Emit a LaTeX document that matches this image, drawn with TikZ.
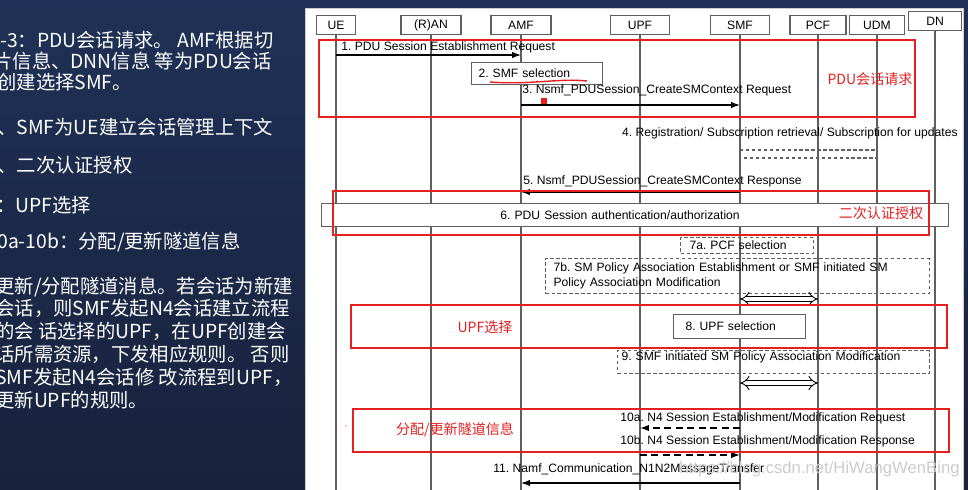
\documentclass[tikz,border=0pt]{standalone}
\usepackage{fontspec}
\setmainfont{Liberation Sans}
\newfontfamily\cjk{Noto Sans CJK SC}
\usepackage{xcolor}
\usetikzlibrary{arrows.meta,positioning,calc}
\frenchspacing

\definecolor{slidetop}{RGB}{31,49,86}
\definecolor{slidebot}{RGB}{24,34,60}
\definecolor{markred}{RGB}{228,32,32}
\definecolor{lifegray}{RGB}{95,95,95}

\begin{document}
\begin{tikzpicture}[
    x=0.02cm, y=-0.02cm,
    >={Latex[length=5pt,width=3.6pt]},
    font=\fontsize{6.9}{8.5}\selectfont,
    entity/.style={rectangle,draw=lifegray,fill=white,line width=0.6pt,minimum height=0.38cm,inner sep=0pt},
    life/.style={draw=lifegray,line width=0.6pt},
    procbox/.style={rectangle,draw=lifegray,fill=white,line width=0.6pt,inner ysep=0pt,align=left},
    optbox/.style={rectangle,draw=lifegray,line width=0.6pt,dash pattern=on 2pt off 1.4pt,inner ysep=0pt,align=left},
    msgtext/.style={inner sep=0pt},
    msg/.style={->,draw=black,line width=0.7pt},
    n4msg/.style={->,draw=black,line width=0.8pt,dash pattern=on 4pt off 2.5pt},
    hollow/.style={{Implies}-{Implies},draw=black,line width=0.5pt,double=white,double distance=2.4pt},
    redbox/.style={draw=markred,line width=1.1pt},
    notelab/.style={text=markred,inner sep=0pt,font=\cjk\fontsize{8}{9}\selectfont},
    side/.style={anchor=west,inner sep=0pt,text=white,font=\cjk\fontsize{11}{12}\selectfont},
]
\useasboundingbox (0,0) rectangle (968,490);

% ---- slide background ----
\fill[top color=slidetop,bottom color=slidebot] (0,0) rectangle (968,490);
\fill[white,draw=gray!40] (305,8) rectangle (963,490);

% ---- left column notes ----
\begin{scope}
\clip (0,0) rectangle (305,490);
\node[side] (p1)  at (0,40)   {-3：PDU会话请求。 AMF根据切};
\node[side] (p2)  at (-7,61)  {片信息、DNN信息 等为PDU会话};
\node[side] (p3)  at (-3,82)  {创建选择SMF。};
\node[side] (p4)  at (-3,127) {、SMF为UE建立会话管理上下文};
\node[side] (p5)  at (-3,165) {、二次认证授权};
\node[side] (p6)  at (-4,205) {：UPF选择};
\node[side] (p7)  at (-3,242) {0a-10b：分配/更新隧道信息};
\node[side] (p8)  at (-5,287) {更新/分配隧道消息。若会话为新建};
\node[side] (p9)  at (-5,308) {会话，则SMF发起N4会话建立流程};
\node[side] (p10) at (-5,331) {的会 话选择的UPF，在UPF创建会};
\node[side] (p11) at (-5,354) {话所需资源，下发相应规则。 否则};
\node[side] (p12) at (-5,377) {SMF发起N4会话修 改流程到UPF，};
\node[side] (p13) at (-5,400) {更新UPF的规则。};
\end{scope}

% ---- entities and lifelines ----
\node[entity,minimum width=0.78cm] (ue)  at (336,25) {UE};
\node[entity,minimum width=1.2cm]  (ran) at (431,25) {(R)AN};
\node[entity,minimum width=1.2cm]  (amf) at (521,25) {AMF};
\node[entity,minimum width=1.18cm] (upf) at (640,25) {UPF};
\node[entity,minimum width=1.18cm] (smf) at (740,25) {SMF};
\node[entity,minimum width=1.12cm] (pcf) at (818,25) {PCF};
\node[entity,minimum width=1.1cm]  (udm) at (877,25) {UDM};
\node[entity,minimum width=1.06cm] (dn)  at (935,21) {DN};

\coordinate (bot) at (0,490);
\foreach \n in {ue,ran,amf,upf,smf,pcf,udm,dn}
  \draw[life] (\n.south) -- (\n |- bot);

% ---- steps 1-3 ----
\coordinate (m1) at (0,55);
\node[msgtext,anchor=west] (t1) at (341,47) {1. PDU Session Establishment Request};
\draw[msg] (ue |- m1) -- (amf |- m1);

\node[procbox,anchor=north west,minimum height=0.44cm,inner xsep=0.14cm,text width=2.34cm] (s2) at (471,62) {2. SMF selection};
\draw[markred,line width=0.8pt] (490,82) .. controls (530,85) and (560,78) .. (587,81);

\coordinate (m3) at (0,105);
\node[msgtext,anchor=west] (t3) at (522,90) {3. Nsmf\_PDUSession\_CreateSMContext Request};
\draw[msg] (amf |- m3) -- (smf |- m3);
\fill[markred] (541,98) rectangle (547,104);

% ---- step 4 ----
\node[msgtext,anchor=east] (t4) at (958,133) {4. Registration/ Subscription retrieval/ Subscription for updates};
\coordinate (d4) at (0,150);
\coordinate (d4b) at (0,158);
\draw[life,dash pattern=on 2pt off 1.4pt] (smf |- d4) rectangle (udm |- d4b);

% ---- step 5 ----
\coordinate (m5) at (0,192);
\node[msgtext,anchor=west] (t5) at (523,181) {5. Nsmf\_PDUSession\_CreateSMContext Response};
\draw[msg] (smf |- m5) -- (amf |- m5);

% ---- step 6 ----
\node[procbox,anchor=north west,minimum height=0.46cm,inner xsep=3.58cm,text width=5.38cm] (s6) at (321,203) {6. PDU Session authentication/authorization};

% ---- step 7 ----
\node[optbox,anchor=north west,minimum height=0.32cm,inner xsep=0.18cm,text width=2.3cm] (s7a) at (680,237) {7a. PCF selection};
\node[optbox,anchor=north west,minimum height=0.7cm,inner xsep=0.16cm,text width=7.36cm] (s7b) at (545,258)
   {7b. SM Policy Association Establishment or SMF initiated SM\\Policy Association Modification};
\coordinate (h7) at (0,299);
\draw[hollow] (smf |- h7) -- (pcf |- h7);

% ---- step 8 ----
\node[procbox,anchor=north west,minimum height=0.48cm,inner xsep=0.24cm,text width=2.16cm] (s8) at (673,314) {8. UPF selection};

% ---- step 9 ----
\node[optbox,anchor=north west,inner xsep=0.08cm,text width=6.08cm,text height=0.2cm,text depth=0.26cm] (s9) at (617,350)
   {9. SMF initiated SM Policy Association Modification};
\coordinate (h9) at (0,383);
\draw[hollow] (smf |- h9) -- (pcf |- h9);

% ---- steps 10a/10b (N4) ----
\coordinate (m10a) at (0,428);
\coordinate (m10b) at (0,455);
\node[msgtext,anchor=west] (t10a) at (620,418) {10a. N4 Session Establishment/Modification Request};
\draw[n4msg] (smf |- m10a) -- (upf |- m10a);
\node[msgtext,anchor=west] (t10b) at (620,441) {10b. N4 Session Establishment/Modification Response};
\draw[n4msg] (upf |- m10b) -- (smf |- m10b);

% ---- step 11 ----
\coordinate (m11) at (0,483);
\node[msgtext,anchor=west] (t11) at (493,469) {11. Namf\_Communication\_N1N2MessageTransfer};
\draw[msg] (smf |- m11) -- (amf |- m11);
\node[anchor=east,inner sep=0pt,text=gray!40,font=\fontsize{9.5}{10}\selectfont] (wm) at (960,469) {https://blog.csdn.net/HiWangWenBing};

% ---- red highlight boxes ----
\draw[redbox] (319,40) rectangle (915,117);
\node[notelab] (r1) at (870,79) {PDU会话请求};
\draw[redbox] (333,191) rectangle (929,235);
\node[notelab] (r2) at (881,213) {二次认证授权};
\draw[redbox] (351,305) rectangle (947,348);
\node[notelab] (r3) at (485,327) {UPF选择};
\draw[redbox] (353,409) rectangle (949,452);
\node[notelab] (r4) at (455,430) {分配/更新隧道信息};
\fill[markred] (346,426) circle (0.7);
\end{tikzpicture}
\end{document}
